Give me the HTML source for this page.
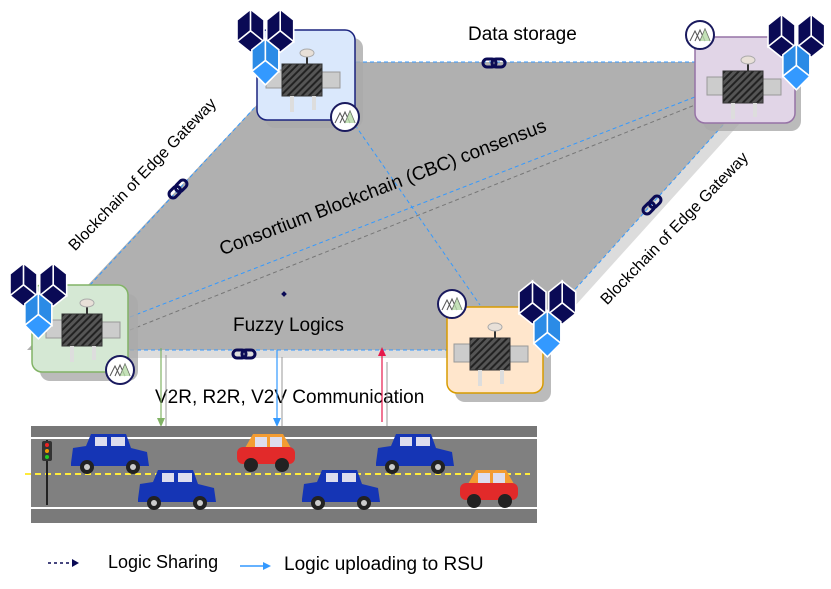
<!DOCTYPE html>
<html><head><meta charset="utf-8"><style>
html,body{margin:0;padding:0;background:#fff;}
svg{display:block;font-family:"Liberation Sans",Arial,sans-serif;}
</style></head><body>
<svg width="831" height="589" viewBox="0 0 831 589" xmlns="http://www.w3.org/2000/svg">
<defs>
<pattern id="str" width="5" height="5" patternUnits="userSpaceOnUse" patternTransform="rotate(45)">
<rect width="5" height="5" fill="#555"/><rect width="2" height="5" fill="#222"/></pattern>
<g id="dev">
<rect x="-38" y="-8" width="22" height="18" fill="#ccc" stroke="#999"/>
<rect x="14" y="-6" width="22" height="16" fill="#ccc" stroke="#999"/>
<line x1="3" y1="-22" x2="3" y2="-12" stroke="#333" stroke-width="2"/>
<ellipse cx="3" cy="-25" rx="7" ry="4" fill="#e8e0d8" stroke="#aaa"/>
<rect x="-22" y="-14" width="40" height="32" fill="url(#str)" stroke="#333"/>
<rect x="-14" y="18" width="4" height="16" fill="#ddd"/>
<rect x="8" y="18" width="4" height="14" fill="#ddd"/>
</g>
<g id="fz">
<circle r="14" fill="#fff" stroke="#1a1a5e" stroke-width="2"/>
<path d="M-10 6 L-5 -4 L0 6 M-5 6 L0 -5 L5 6 M0 6 L5 -6 L10 6" fill="none" stroke="#555" stroke-width="1"/>
<path d="M0 6 L5 -6 L10 6Z" fill="#b6dba8" opacity=".8"/>
</g>
<g id="blk0" stroke="#fff" stroke-width="1.2">
<path d="M0 0 L10 -8 L10 8 L0 16Z M10 -8 L20 0 L20 16 L10 8Z M0 16 L10 8 L20 16 L10 24Z" fill="#0a0a55"/>
<path d="M22 0 L32 -8 L32 8 L22 16Z M32 -8 L42 0 L42 16 L32 8Z M22 16 L32 8 L42 16 L32 24Z" fill="#0a0a55"/>
<path d="M11 22 L21 14 L21 30 L11 38Z M21 14 L31 22 L31 38 L21 30Z" fill="#2b8be6"/>
<path d="M11 38 L21 30 L31 38 L21 48Z" fill="#3399ff"/>
</g>
<g id="blk"><use href="#blk0" transform="scale(1.35)"/></g>
<g id="lnk"><rect x="-11" y="-4" width="13" height="8" rx="4" fill="none" stroke="#0a0a55" stroke-width="3"/><rect x="-2" y="-4" width="13" height="8" rx="4" fill="none" stroke="#0a0a55" stroke-width="3"/></g>
<g id="jeep">
<path d="M-40 5 L-38 -10 L-25 -12 L-20 -24 L15 -24 L20 -10 L36 -6 L38 8 L-40 8Z" fill="#1535b5"/>
<rect x="-16" y="-21" width="12" height="9" fill="#dde"/><rect x="0" y="-21" width="14" height="9" fill="#dde"/>
<circle cx="-24" cy="9" r="7" fill="#222"/><circle cx="-24" cy="9" r="3" fill="#ccc"/>
<circle cx="22" cy="9" r="7" fill="#222"/><circle cx="22" cy="9" r="3" fill="#ccc"/>
</g>
<g id="rcar">
<path d="M-20 -8 L-12 -22 L18 -22 L26 -8 Z" fill="#f39c32"/>
<rect x="-10" y="-19" width="12" height="10" fill="#dde"/><rect x="5" y="-19" width="12" height="10" fill="#dde"/>
<rect x="-28" y="-9" width="58" height="17" rx="6" fill="#e22a2a"/>
<circle cx="-14" cy="9" r="7" fill="#222"/><circle cx="17" cy="9" r="7" fill="#222"/>
</g>
</defs>
<polygon points="305,70 788,70 528,358 35,358" fill="#dcdcdc"/>
<polygon points="297,62 780,62 520,350 27,350" fill="#b0b0b0"/>
<line x1="300" y1="62" x2="700" y2="62" stroke="#3399ff" stroke-dasharray="4,3"/>
<line x1="130" y1="350" x2="540" y2="350" stroke="#3399ff" stroke-dasharray="4,3"/>
<line x1="90" y1="285" x2="257" y2="105" stroke="#3399ff" stroke-dasharray="4,3"/>
<line x1="723" y1="125" x2="570" y2="295" stroke="#3399ff" stroke-dasharray="4,3"/>
<line x1="130" y1="317" x2="700" y2="95" stroke="#3399ff" stroke-dasharray="4,3"/>
<line x1="130" y1="330" x2="700" y2="103" stroke="#777" stroke-dasharray="4,3"/>
<line x1="355" y1="125" x2="480" y2="305" stroke="#3399ff" stroke-dasharray="4,3"/>
<rect x="282" y="292" width="4" height="4" fill="#0a0a55" transform="rotate(45 284 294)"/>
<use href="#lnk" transform="translate(494,63)"/>
<use href="#lnk" transform="translate(244,354)"/>
<use href="#lnk" transform="translate(178,189) rotate(-45)"/>
<use href="#lnk" transform="translate(652,205) rotate(-45)"/>
<text x="468" y="40" font-size="19">Data storage</text>
<text x="233" y="331" font-size="19">Fuzzy Logics</text>
<text x="155" y="403" font-size="19">V2R, R2R, V2V Communication</text>
<text transform="translate(385,193) rotate(-21)" text-anchor="middle" font-size="19">Consortium Blockchain (CBC) consensus</text>
<text transform="translate(146,178) rotate(-46)" text-anchor="middle" font-size="16">Blockchain of Edge Gateway</text>
<text transform="translate(678,232) rotate(-46)" text-anchor="middle" font-size="16">Blockchain of Edge Gateway</text>
<rect x="265" y="38" width="98" height="90" rx="10" fill="#aaa" opacity=".8"/>
<rect x="257" y="30" width="98" height="90" rx="10" fill="#dae8fc" stroke="#1a237e" stroke-width="1.5"/>
<use href="#dev" transform="translate(304,78)"/>
<use href="#fz" transform="translate(345,117)"/>
<use href="#blk" transform="translate(237,20)"/>
<rect x="703" y="51" width="98" height="80" rx="10" fill="#aaa" opacity=".8"/>
<rect x="695" y="37" width="100" height="86" rx="10" fill="#e1d5e7" stroke="#9673a6" stroke-width="1.5"/>
<use href="#dev" transform="translate(745,85)"/>
<use href="#fz" transform="translate(700,35)"/>
<use href="#blk" transform="translate(768,25)"/>
<rect x="40" y="294" width="98" height="87" rx="10" fill="#aaa" opacity=".8"/>
<rect x="32" y="285" width="96" height="87" rx="10" fill="#d5e8d4" stroke="#82b366" stroke-width="1.5"/>
<use href="#dev" transform="translate(84,328)"/>
<use href="#fz" transform="translate(120,370)"/>
<use href="#blk" transform="translate(10,274)"/>
<rect x="455" y="316" width="96" height="86" rx="10" fill="#aaa" opacity=".8"/>
<rect x="447" y="307" width="96" height="86" rx="10" fill="#ffe6cc" stroke="#d79b00" stroke-width="1.5"/>
<use href="#dev" transform="translate(492,352)"/>
<use href="#fz" transform="translate(452,304)"/>
<use href="#blk" transform="translate(519,292)"/>
<line x1="161" y1="348" x2="161" y2="422" stroke="#82b366" stroke-width="1.2"/><path d="M157 418 L161 427 L165 418Z" fill="#82b366"/>
<line x1="166" y1="355" x2="166" y2="427" stroke="#999"/>
<line x1="277" y1="350" x2="277" y2="422" stroke="#3399ff" stroke-width="1.2"/><path d="M273 418 L277 427 L281 418Z" fill="#3399ff"/>
<line x1="282" y1="357" x2="282" y2="428" stroke="#999"/>
<line x1="382" y1="355" x2="382" y2="422" stroke="#e6194b" stroke-width="1.2"/><path d="M378 356 L382 347 L386 356Z" fill="#e6194b"/>
<line x1="387" y1="362" x2="387" y2="430" stroke="#999"/>
<rect x="31" y="426" width="506" height="97" fill="#808080"/>
<rect x="31" y="426" width="506" height="11" fill="#777"/>
<rect x="31" y="437" width="506" height="2" fill="#fff"/>
<rect x="31" y="507" width="506" height="2" fill="#fff"/>
<rect x="31" y="509" width="506" height="14" fill="#7a7a7a"/>
<line x1="25" y1="474" x2="530" y2="474" stroke="#ffeb3b" stroke-width="2" stroke-dasharray="6,4"/>
<rect x="46" y="440" width="2" height="65" fill="#222"/>
<rect x="42" y="441" width="10" height="20" rx="2" fill="#333"/>
<circle cx="47" cy="445" r="2" fill="#e22"/><circle cx="47" cy="451" r="2" fill="#e90"/><circle cx="47" cy="457" r="2" fill="#2c2"/>
<use href="#jeep" transform="translate(111,458)"/>
<use href="#rcar" transform="translate(265,456)"/>
<use href="#jeep" transform="translate(416,458)"/>
<use href="#jeep" transform="translate(178,494)"/>
<use href="#jeep" transform="translate(342,494)"/>
<use href="#rcar" transform="translate(488,492)"/>
<line x1="48" y1="563" x2="70" y2="563" stroke="#0a0a55" stroke-width="1.5" stroke-dasharray="3,3"/><path d="M72 559 L79 563 L72 567Z" fill="#0a0a55"/>
<text x="108" y="568" font-size="18">Logic Sharing</text>
<line x1="240" y1="566" x2="265" y2="566" stroke="#3399ff" stroke-width="1.5"/><path d="M263 562 L271 566 L263 570Z" fill="#3399ff"/>
<text x="284" y="570" font-size="19">Logic uploading to RSU</text>
</svg>
</body></html>
